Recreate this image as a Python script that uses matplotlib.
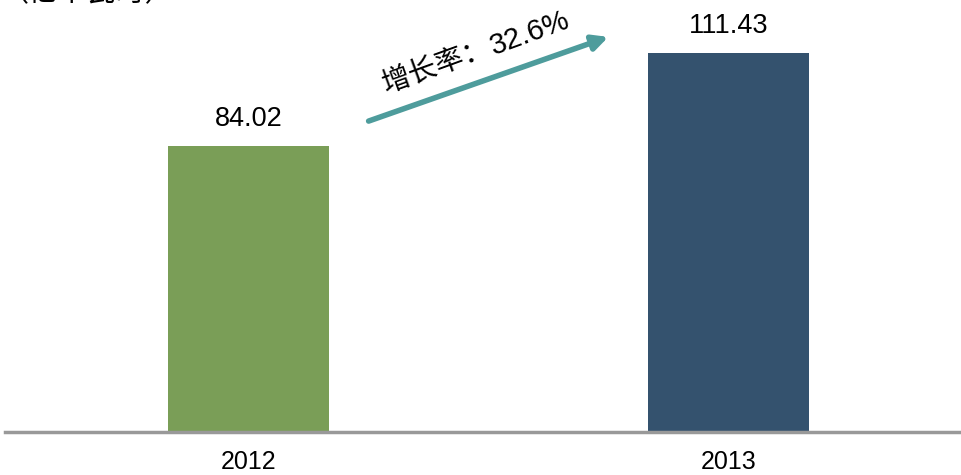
import matplotlib.pyplot as plt

years = ['2012', '2013']
values = [84.02, 111.43]
bar_colors = ['#7a9e57', '#34526e']
unit_label = '（亿千瓦时）'
growth_label = '增长率：'
growth_value = '32.6%'

plt.rcParams['font.family'] = ['Liberation Sans', 'Noto Sans CJK SC', 'DejaVu Sans']

fig = plt.figure(figsize=(9.62, 4.75), dpi=100)
ax = fig.add_axes([5 / 962, 43 / 475, 957 / 962, 432 / 475])

x = list(range(len(years)))
ax.bar(x, values, width=0.335, color=bar_colors, zorder=2)
for xi, v in zip(x, values):
    ax.text(xi, v + 4.2, f'{v:.2f}', ha='center', va='bottom', fontsize=19.5)

ax.set_xlim(-0.507, 1.486)
ax.set_ylim(0, 127)
ax.set_yticks([])
ax.set_xticks(x)
ax.set_xticklabels(years, fontsize=18)
ax.tick_params(axis='x', length=0, pad=13)
for side in ['top', 'right', 'left']:
    ax.spines[side].set_visible(False)
ax.spines['bottom'].set_color('#999999')
ax.spines['bottom'].set_linewidth(2.5)

# growth arrow in pixel coordinates converted to axes fraction
def px(xp, yp):
    return ((xp - 5) / 957, (432 - yp) / 432)

ax.annotate('', xy=px(611, 36), xytext=px(366, 122),
            xycoords='axes fraction', textcoords='axes fraction',
            arrowprops=dict(arrowstyle='-|>,head_length=0.9,head_width=0.45',
                            color='#4e9c9c', lw=4))
ax.text(*px(386, 93), growth_label, transform=ax.transAxes, rotation=20,
        rotation_mode='anchor', ha='left', va='baseline', fontsize=20.5,
        family=['Noto Sans CJK SC'])
ax.text(*px(494, 55), growth_value, transform=ax.transAxes, rotation=20,
        rotation_mode='anchor', ha='left', va='baseline', fontsize=21)

fig.text(0.0, 1 - 8 / 475, unit_label, ha='left', va='bottom', fontsize=21,
         family=['Noto Sans CJK SC'])

fig.savefig('out.png', dpi=100)
